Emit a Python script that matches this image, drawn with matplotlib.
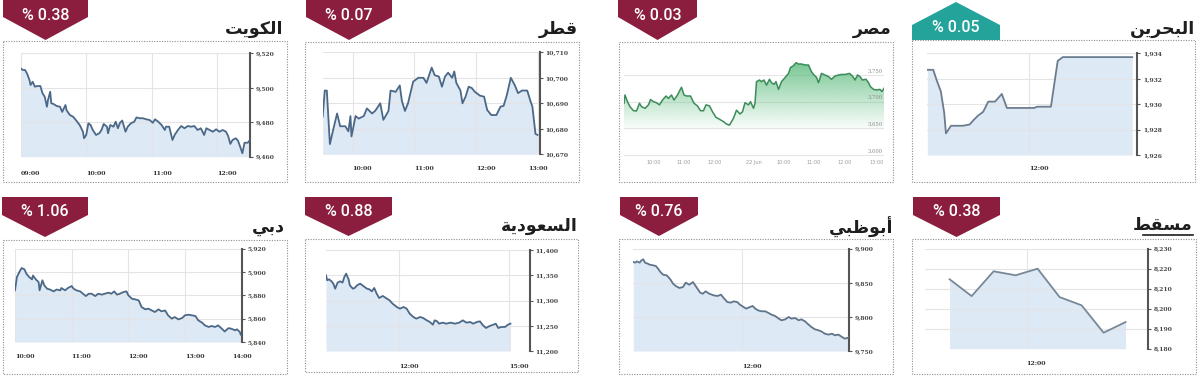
import matplotlib
matplotlib.use("Agg")
import matplotlib.pyplot as plt
from matplotlib.patches import Polygon, Rectangle
from matplotlib.colors import to_rgb
import numpy as np

# ---------------- data ----------------
# Kuwait (minutes after 09:00)
kuwait_min = [0, 2, 4, 6, 8, 9, 11, 13, 15, 18, 20, 22, 24, 25, 27, 28, 30, 33, 36, 38, 41, 42, 45, 48, 51, 54, 57, 58, 60, 62,
              64, 66, 69, 72, 74, 76, 79, 80, 82, 85, 87, 89, 91, 93, 96, 98, 101, 104, 106, 109, 112, 115, 118, 121, 123, 126,
              129, 132, 133, 136, 139, 141, 144, 147, 150, 153, 156, 159, 162, 165, 168, 170, 173, 176, 179, 182, 185, 188, 190,
              192, 194, 197, 199, 201, 203, 205, 208, 210]
kuwait_val = [9511.3, 9510.3, 9510.3, 9508, 9504.5, 9501.6, 9503.5, 9500.6, 9501, 9501, 9496.8, 9494.8, 9489, 9492.9, 9497.7,
              9491, 9490.6, 9489.4, 9489, 9486, 9490, 9487, 9484.2, 9483.2, 9480.9, 9478.4, 9474.5, 9470.7, 9472.6, 9479.4,
              9478.4, 9475.5, 9472.6, 9473.6, 9475.5, 9479, 9477.4, 9473.6, 9478.4, 9477.4, 9480.3, 9476.5, 9479.7, 9481,
              9474.5, 9477.4, 9479.4, 9480.3, 9482.8, 9482.3, 9482.3, 9481.7, 9481.3, 9479.7, 9481.7, 9480.3, 9478.4, 9475.5,
              9477.4, 9477.4, 9469.7, 9472.6, 9475.5, 9477.8, 9476.5, 9477.8, 9477.4, 9477.8, 9475.5, 9476.5, 9472.6, 9476.5,
              9475.5, 9474.5, 9475.9, 9474.5, 9475.5, 9474.5, 9472, 9467.4, 9469.7, 9470.7, 9469.3, 9465.8, 9462, 9468.1,
              9468.1, 9469.7]
kuwait_yticks = [9460, 9480, 9500, 9520]
kuwait_xticks = [0, 60, 120, 180]
kuwait_xlabels = ["09:00", "10:00", "11:00", "12:00"]

# Qatar (minutes after 09:30)
qatar_min = [1, 3, 5, 8, 12, 15, 18, 23, 26, 28, 29, 33, 36, 41, 44, 49, 52, 57, 60, 65, 67, 72, 76, 78, 81, 84, 89, 94, 99,
             102, 107, 110, 114, 117, 120, 123, 127, 129, 131, 135, 137, 140, 143, 146, 149, 154, 158, 161, 165, 170, 174,
             177, 180, 184, 188, 191, 195, 200, 203, 205, 208, 210]
qatar_val = [10684.8, 10695, 10695, 10674, 10681, 10686, 10681, 10681, 10679, 10685, 10677, 10685, 10684, 10685, 10688,
             10686, 10687, 10690, 10683.5, 10687, 10695, 10694.5, 10697, 10691, 10687, 10690, 10698.5, 10700, 10700, 10698,
             10704, 10701, 10700.5, 10696.5, 10700.5, 10702, 10700, 10702.5, 10698, 10695, 10690, 10692.6, 10696.5, 10696,
             10694.5, 10693, 10692.6, 10687.4, 10685.4, 10685.4, 10688.7, 10689, 10693, 10700, 10697, 10694, 10695, 10695,
             10691, 10688.7, 10678, 10677.6]
qatar_yticks = [10670, 10680, 10690, 10700, 10710]
qatar_xticks = [30, 90, 150, 210]
qatar_xlabels = ["10:00", "11:00", "12:00", "13:00"]

# Egypt (minutes along the two-session axis)
egypt_min = [0, 2, 7, 12, 19, 25, 31, 35, 42, 49, 53, 59, 65, 71, 77, 84, 89, 95, 100, 107, 112, 115, 120, 125, 133, 140,
             147, 153, 159, 164, 171, 177, 184, 191, 199, 205, 211, 219, 225, 232, 237, 242, 249, 253, 259, 262, 265, 271,
             275, 280, 285, 291, 295, 300, 304, 309, 315, 322, 329, 333, 339, 344, 349, 355, 362, 369, 375, 380, 385, 389,
             395, 402, 409, 415, 422, 429, 435, 442, 451, 457, 462, 467, 472, 477, 484, 489, 493, 499, 505, 512, 516, 520]
egypt_val = [3697, 3712.5, 3700, 3690.6, 3683, 3682.5, 3697, 3690.6, 3687.5, 3694, 3704, 3700, 3698, 3694, 3703, 3710.6,
             3706, 3712.5, 3703, 3712.5, 3722, 3727, 3712.5, 3710.6, 3710.6, 3697, 3692, 3683, 3683, 3694, 3692, 3681,
             3670.6, 3667, 3662.5, 3658, 3656, 3669, 3684, 3676.9, 3681, 3698, 3694, 3700, 3687.5, 3697, 3737.5, 3740.6,
             3737.5, 3740.6, 3731, 3742, 3735.6, 3732.5, 3737.5, 3723, 3737.5, 3745, 3753, 3764, 3767.5, 3773, 3770.6,
             3770.6, 3768.75, 3768.75, 3756, 3750, 3745.6, 3735.6, 3753, 3750, 3747, 3742, 3748, 3750, 3751, 3751, 3753,
             3748, 3740.6, 3750, 3747, 3740.6, 3742, 3735.6, 3728, 3723, 3722, 3723, 3719, 3725]
egypt_yticks = [3600, 3650, 3700, 3750]
egypt_xticks = [59, 119, 182, 259, 319, 379, 442, 505]
egypt_xlabels = ["10:00", "11:00", "12:00", "22 Jun", "10:00", "11:00", "12:00", "13:00"]

# Bahrain (minutes after 11:00)
bahrain_min = [0, 3.5, 5.5, 8, 10, 11, 14, 17, 21, 25, 27, 30, 33, 36, 40, 44, 47, 52, 57, 63, 65, 70, 73, 77, 80, 86, 102, 121]
bahrain_val = [1932.7, 1932.7, 1931.9, 1931, 1929.3, 1927.7, 1928.3, 1928.3, 1928.3, 1928.4, 1928.7, 1929.1, 1929.4,
               1930.2, 1930.2, 1930.8, 1929.7, 1929.7, 1929.7, 1929.7, 1929.8, 1929.8, 1929.8, 1933.4, 1933.7, 1933.7,
               1933.7, 1933.7]
bahrain_yticks = [1926, 1928, 1930, 1932, 1934]
bahrain_xticks = [60]
bahrain_xlabels = ["12:00"]

# Dubai (minutes after 10:00)
dubai_min = [0, 2, 5, 7, 10, 12, 15, 18, 19, 22, 25, 26, 29, 31, 34, 37, 41, 44, 48, 49, 53, 56, 60, 62, 65, 69, 72, 75, 78,
             81, 85, 88, 92, 95, 99, 102, 105, 108, 111, 115, 118, 120, 124, 127, 131, 134, 138, 141, 145, 148, 152, 155,
             159, 162, 166, 169, 173, 177, 180, 184, 187, 191, 194, 198, 201, 205, 208, 212, 215, 219, 222, 226, 229, 233,
             235, 238, 239]
dubai_val = [5884.3, 5895.7, 5900.6, 5903.4, 5902.3, 5898.6, 5895.7, 5893.7, 5897, 5893.7, 5891.4, 5884.3, 5892.9, 5888.6,
             5885.7, 5885, 5883.4, 5885, 5884.3, 5886.3, 5884.3, 5886.3, 5888, 5885.7, 5884.3, 5883.4, 5881.4, 5879.4,
             5881.4, 5881.4, 5879.4, 5881.4, 5880.6, 5881.4, 5882.3, 5881.4, 5883.4, 5880.6, 5881.4, 5882.9, 5883.4, 5880,
             5877, 5876.6, 5875.7, 5870, 5868, 5868.6, 5867, 5865.7, 5868, 5866.3, 5867, 5862.9, 5860, 5861.4, 5859.4,
             5860.6, 5862.9, 5863.4, 5862.9, 5862.3, 5858.6, 5856.6, 5854.3, 5852.9, 5853.7, 5852.9, 5854.3, 5851.4, 5849,
             5851.9, 5851.4, 5850, 5850.9, 5848.6, 5846.3]
dubai_yticks = [5840, 5860, 5880, 5900, 5920]
dubai_xticks = [0, 60, 120, 180, 240]
dubai_xlabels = ["10:00", "11:00", "12:00", "13:00", "14:00"]

# Saudi (minutes after 10:00)
saudi_min = [0, 2, 5, 9, 12, 15, 19, 23, 27, 30, 33, 37, 39, 44, 47, 51, 56, 61, 67, 71, 75, 79, 83, 87, 93, 98, 104, 109,
             116, 121, 127, 132, 137, 143, 148, 154, 159, 165, 170, 175, 178, 182, 185, 191, 197, 204, 211, 218, 224, 230,
             236, 241, 247, 252, 257, 262, 268, 274, 278, 282, 287, 293, 298, 302]
saudi_val = [11350.3, 11340.4, 11342.4, 11338.4, 11333.8, 11323.8, 11335.8, 11338.4, 11335.8, 11347, 11353.6, 11342.4,
             11330.5, 11323.8, 11325.2, 11330.5, 11333.8, 11329.1, 11323.8, 11322.5, 11318.5, 11325.2, 11313.9, 11305.3,
             11309.3, 11305.3, 11300.7, 11294, 11287.4, 11284.1, 11287.4, 11284.1, 11274.2, 11267.5, 11264.2, 11267.5,
             11265.6, 11260.9, 11257.6, 11252.3, 11260.9, 11258.9, 11254.3, 11256.3, 11254.3, 11256.3, 11254.3, 11256.3,
             11260.9, 11256.3, 11257.6, 11254.3, 11257.6, 11258.9, 11251, 11245.7, 11249.7, 11252.3, 11254.3, 11245.7,
             11247.7, 11247.7, 11252.3, 11254.3]
saudi_yticks = [11200, 11250, 11300, 11350, 11400]
saudi_xticks = [120, 300]
saudi_xlabels = ["12:00", "15:00"]

# Abu Dhabi (minutes after 10:00)
abudhabi_min = [0, 2, 4, 7, 9, 11, 13, 16, 18, 22, 25, 28, 30, 33, 37, 41, 44, 47, 51, 55, 58, 62, 66, 68, 71, 74, 77, 80,
                84, 89, 93, 97, 100, 104, 108, 111, 115, 118, 122, 125, 129, 132, 135, 138, 142, 146, 149, 153, 157, 161,
                164, 168, 172, 175, 179, 183, 186, 190, 194, 197, 201, 205, 208, 212, 216, 220, 223, 227, 231, 234, 237, 239]
abudhabi_val = [9880.5, 9879.5, 9881.4, 9879.5, 9882.9, 9884.4, 9879.5, 9878, 9876.6, 9875.6, 9874.6, 9869.7, 9865.8,
                9861.9, 9860.9, 9855, 9848.7, 9845.3, 9842.4, 9843.8, 9850.2, 9847.2, 9851.1, 9847.2, 9841.4, 9835.5, 9834,
                9837.5, 9834, 9831.6, 9830.6, 9832.6, 9827.7, 9821.8, 9820.9, 9822.8, 9821.8, 9817.9, 9814.5, 9812.1,
                9814.5, 9816, 9812.1, 9809.6, 9808.2, 9808.2, 9806.2, 9803.3, 9801.3, 9797.4, 9795, 9796.4, 9799.9, 9797.4,
                9798.4, 9795, 9796.4, 9793.5, 9788.6, 9785.2, 9781.8, 9780.3, 9778.8, 9775.4, 9774, 9775.4, 9773, 9774,
                9770.5, 9768.1, 9769.1, 9770.5]
abudhabi_yticks = [9750, 9800, 9850, 9900]
abudhabi_xticks = [120]
abudhabi_xlabels = ["12:00"]

# Muscat (minutes after 10:00)
muscat_min = [15, 45, 75, 105, 135, 165, 195, 225, 255]
muscat_val = [8214.7, 8206.3, 8218.7, 8216.7, 8220, 8205.8, 8201.7, 8188, 8193.3]
muscat_yticks = [8180, 8190, 8200, 8210, 8220, 8230]
muscat_xticks = [120]
muscat_xlabels = ["12:00"]

# Titles (Arabic, written in shaped presentation forms, visual order)
title_kuwait = "\uFE96\uFEF3\uFEEE\uFEDC\uFEDF\uFE8D"          # الكويت
title_qatar = "\uFEAE\uFEC4\uFED7"                              # قطر
title_egypt = "\uFEAE\uFEBC\uFEE3"                              # مصر
title_bahrain = "\uFEE6\uFEF3\uFEAE\uFEA4\uFE92\uFEDF\uFE8D"    # البحرين
title_dubai = "\uFEF2\uFE91\uFEA9"                              # دبي
title_saudi = "\uFE94\uFEF3\uFEA9\uFEEE\uFECC\uFEB4\uFEDF\uFE8D"  # السعودية
title_abudhabi = "\uFEF2\uFE92\uFEC7\uFEEE\uFE91\uFE83"          # أبوظبي
title_muscat = "\uFEC2\uFED8\uFEB4\uFEE3"                        # مسقط

changes = ["% 0.38", "% 0.07", "% 0.03", "% 0.05", "% 1.06", "% 0.88", "% 0.76", "% 0.38"]

# ---------------- drawing ----------------
W, H = 1200, 384
fig = plt.figure(figsize=(12, 3.84), dpi=100)
fig.patch.set_facecolor("white")

MAROON = "#8b1d3f"
TEAL = "#23a39a"
FILL = "#dde9f5"
TICKFONT = "DejaVu Serif"

ov = fig.add_axes([0, 0, 1, 1])
ov.set_xlim(0, W)
ov.set_ylim(H, 0)
ov.axis("off")


def frame(l, t, r, b):
    ov.add_patch(Rectangle((l, t), r - l, b - t, fill=False, ec="#8f8f8f", lw=0.8, ls=(0, (1, 1.3))))


def badge_down(x0, x1, top, side, tip, text, ty):
    xc = (x0 + x1) / 2
    ov.add_patch(Polygon([(x0, top), (x1, top), (x1, side), (xc, tip), (x0, side)], closed=True,
                         fc=MAROON, ec="none"))
    ov.text(xc, ty, text, color="white", fontsize=11.5, family="Roboto", fontweight="medium",
            ha="center", va="center")


def badge_up(x0, x1, top, side, bottom, text, ty):
    xc = (x0 + x1) / 2
    ov.add_patch(Polygon([(x0, bottom), (x0, side), (xc, top), (x1, side), (x1, bottom)], closed=True,
                         fc=TEAL, ec="none"))
    ov.text(xc, ty, text, color="white", fontsize=11.5, family="Roboto", fontweight="medium",
            ha="center", va="center")


def title(xr, y, s):
    ov.text(xr, y, s, fontsize=12.5, fontweight="bold", family=["DejaVu Sans"], color="#1e1e1e",
            ha="right", va="center")


def add_ax(l, t, r, b):
    return fig.add_axes([l / W, 1 - b / H, (r - l) / W, (b - t) / H])


def blue_chart(box, x, y, xlim, yticks, xticks, xlabels, xpad, color):
    ax = add_ax(*box)
    ymin, ymax = yticks[0], yticks[-1]
    ax.fill_between(x, y, ymin, color=FILL, lw=0, zorder=0.4)
    ax.plot(x, y, color=color, lw=1.3, zorder=3, solid_joinstyle="round")
    ax.set_xlim(*xlim)
    ax.set_ylim(ymin, ymax)
    ax.set_yticks(yticks)
    ax.set_yticklabels([f"{v:,}" for v in yticks])
    ax.set_xticks(xticks)
    ax.set_xticklabels(xlabels)
    for s in ("top", "left", "bottom"):
        ax.spines[s].set_visible(False)
    ax.spines["right"].set_color("#555555")
    ax.spines["right"].set_linewidth(1.5)
    ax.yaxis.tick_right()
    ax.tick_params(axis="y", length=2.5, width=0.8, color="#555555", pad=1.5, labelsize=4.3,
                   labelcolor="#444444")
    ax.tick_params(axis="x", length=0, pad=xpad, labelsize=4.5, labelcolor="#333333")
    for lab in ax.get_yticklabels() + ax.get_xticklabels():
        lab.set_family(TICKFONT)
        lab.set_fontweight("bold")
    labs = ax.get_xticklabels()
    for lab, xt in zip(labs, xticks):
        lab.set_ha("center" if abs(xt - xlim[1]) < 8 else "left")
    ax.grid(True, color="#e4e4e4", lw=0.8)
    ax.set_axisbelow(True)
    ax.set_facecolor("white")
    return ax


# frames
frame(3, 41, 287, 182)
frame(305, 42, 579, 182)
frame(619, 42, 893, 182)
frame(912, 40, 1195, 182)
frame(3, 240, 287, 374)
frame(305, 239, 578, 372)
frame(619, 239, 893, 374)
frame(912, 239, 1196, 374)

# badges
badge_down(3, 88, -2, 17, 40, changes[0], 15)
badge_down(306, 392, -2, 17, 40, changes[1], 15)
badge_down(618, 697, -2, 17, 40, changes[2], 15)
badge_up(912, 1000, 2, 25, 40, changes[3], 28)
badge_down(2, 88, 197, 215, 237, changes[4], 211)
badge_down(305, 392, 197, 215, 236, changes[5], 211)
badge_down(620, 698, 197, 215, 236, changes[6], 211)
badge_down(913, 1000, 197, 215, 237, changes[7], 211)

# titles
title(283, 29, title_kuwait)
title(578, 29, title_qatar)
title(892, 29, title_egypt)
title(1195, 29, title_bahrain)
title(285, 227, title_dubai)
title(578, 226, title_saudi)
title(893, 227, title_abudhabi)
title(1193, 225, title_muscat)
ov.plot([1143, 1193], [234.5, 234.5], color="#1e1e1e", lw=1.2)

LINE = "#4b6888"
blue_chart((20.7, 53.3, 250, 156.7), kuwait_min, kuwait_val, (0, 210), kuwait_yticks, kuwait_xticks,
           kuwait_xlabels, 10.2, LINE)
blue_chart((322.7, 52.3, 540, 154.3), qatar_min, qatar_val, (1, 212.4), qatar_yticks, qatar_xticks,
           qatar_xlabels, 8.3, LINE)
blue_chart((927.3, 53.3, 1137.3, 155), bahrain_min, bahrain_val, (0, 124), bahrain_yticks, bahrain_xticks,
           bahrain_xlabels, 7.6, "#6b7c8e")
blue_chart((15, 248.7, 241.7, 342), dubai_min, dubai_val, (0, 240), dubai_yticks, dubai_xticks,
           dubai_xlabels, 8.3, LINE)
blue_chart((326, 250.3, 530, 351), saudi_min, saudi_val, (0, 334), saudi_yticks, saudi_xticks,
           saudi_xlabels, 9, LINE)
blue_chart((633.3, 248.7, 849.3, 351), abudhabi_min, abudhabi_val, (0, 239), abudhabi_yticks, abudhabi_xticks,
           abudhabi_xlabels, 9, "#60758b")
blue_chart((925, 248.7, 1148.3, 348.7), muscat_min, muscat_val, (-18.6, 286), muscat_yticks, muscat_xticks,
           muscat_xlabels, 9, "#778899")

# Egypt chart (green, gradient)
ax = add_ax(624, 48, 884, 156.7)
e_ylim = (3596.8, 3800.6)
e_xlim = (0, 520)
poly = ax.fill_between(egypt_min, egypt_val, e_ylim[0], facecolor="none", lw=0)
vals = np.linspace(e_ylim[0], e_ylim[1], 256)
img = np.zeros((256, 1, 4))
img[..., :3] = to_rgb("#55b978")
img[:, 0, 3] = np.clip((vals - 3645) / (3775 - 3645), 0, 1) * 0.8
im = ax.imshow(img, extent=[e_xlim[0], e_xlim[1], e_ylim[0], e_ylim[1]], origin="lower", aspect="auto",
               zorder=1, interpolation="bilinear")
im.set_clip_path(poly.get_paths()[0], transform=ax.transData)
ax.plot(egypt_min, egypt_val, color="#3c8c5a", lw=1.1, zorder=3)
ax.set_xlim(*e_xlim)
ax.set_ylim(*e_ylim)
ax.set_yticks(egypt_yticks)
ax.set_yticklabels([])
ax.tick_params(axis="y", length=0)
ax.grid(True, axis="y", color="#e6e6e6", lw=0.8)
ax.set_axisbelow(True)
for s in ax.spines.values():
    s.set_visible(False)
ax.set_xticks(egypt_xticks)
ax.set_xticklabels(egypt_xlabels)
ax.tick_params(axis="x", length=0, pad=2.7, labelsize=3.6, labelcolor="#9a9a9a")
for v in egypt_yticks:
    ax.text(e_xlim[1] - 2, v + 3, f"{v:,}", fontsize=3.8, color="#8a8a8a", ha="right", va="bottom",
            family=TICKFONT, zorder=4)

fig.savefig("out.png", dpi=100, facecolor="white")
